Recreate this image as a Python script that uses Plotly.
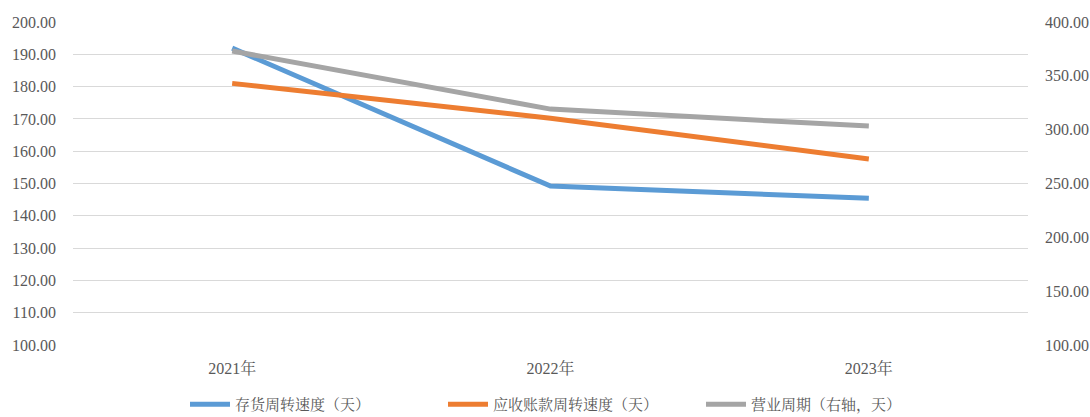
import plotly.graph_objects as go

years = ["2021年", "2022年", "2023年"]
inventory_days = [191.9, 149.2, 145.4]
receivable_days = [181.0, 170.2, 157.6]
operating_cycle = [373.0, 319.1, 303.3]

names = ["存货周转速度（天）", "应收账款周转速度（天）", "营业周期（右轴，天）"]
colors = ["#5B9BD5", "#ED7D31", "#A5A5A5"]

fig = go.Figure()
fig.add_trace(go.Scatter(x=years, y=inventory_days, name=names[0], mode="lines",
                         line=dict(color=colors[0], width=5), yaxis="y"))
fig.add_trace(go.Scatter(x=years, y=receivable_days, name=names[1], mode="lines",
                         line=dict(color=colors[1], width=5), yaxis="y"))
fig.add_trace(go.Scatter(x=years, y=operating_cycle, name=names[2], mode="lines",
                         line=dict(color=colors[2], width=5), yaxis="y2"))

serif = "Liberation Serif, Tinos, Times New Roman, DejaVu Serif, Noto Serif CJK SC, Noto Sans CJK SC, serif"
fig.update_layout(
    width=1090, height=417,
    margin=dict(l=73, r=62, t=22, b=72, autoexpand=False),
    paper_bgcolor="white", plot_bgcolor="white",
    font=dict(family=serif, size=16, color="#595959"),
    showlegend=True,
    legend=dict(orientation="h", xref="container", x=185 / 1090, xanchor="left",
                yref="container", y=0.03, yanchor="middle",
                font=dict(family=serif, size=15, color="#595959"),
                itemwidth=40, entrywidth=203, entrywidthmode="pixels",
                traceorder="normal"),
    xaxis=dict(showgrid=False, showline=False, ticks="", automargin=False,
               range=[-0.5, 2.5], ticklabelstandoff=12),
    yaxis=dict(range=[100, 200], dtick=10, tickformat=".2f", showgrid=True,
               gridcolor="#D9D9D9", gridwidth=1, zeroline=False, showline=False,
               ticks="", automargin=False, ticklabelstandoff=16),
    yaxis2=dict(range=[100, 400], dtick=50, tickformat=".2f", overlaying="y",
                side="right", showgrid=False, zeroline=False, showline=False,
                ticks="", automargin=False, ticklabelstandoff=16),
)

fig.write_html("out.html", config={"displayModeBar": False},
               post_script="document.body.style.margin='0';document.body.style.padding='0';")
